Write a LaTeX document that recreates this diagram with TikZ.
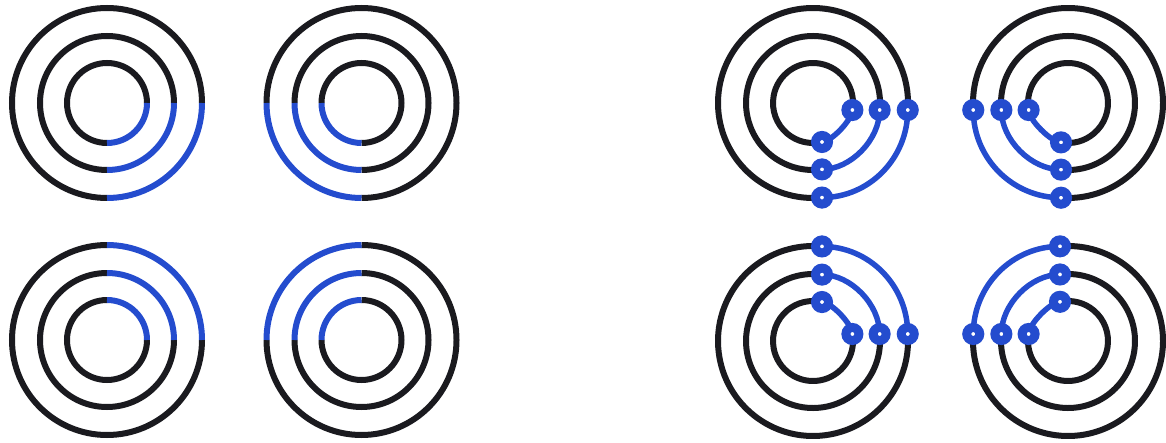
\documentclass[tikz,border=0pt]{standalone}
\usetikzlibrary{calc}
\definecolor{ringblack}{RGB}{26,26,31}
\definecolor{ringblue}{RGB}{36,76,206}
\tikzset{
  ring/.style={draw=ringblack, line width=6pt},
  ringhi/.style={draw=ringblue, line width=6pt},
  conn/.style={draw=ringblue, line width=5.5pt},
  pin/.style={circle, draw=ringblue, fill=white, line width=9pt, inner sep=0pt, minimum size=13pt},
}
% plain target: name, cx, cy, start angle of the blue quarter
\newcommand\plaintarget[4]{%
  \begin{scope}[shift={(#2,#3)}]
    \foreach \r in {40,67,95}{
      \draw[ring] (#4+90:\r) arc[start angle=#4+90, end angle=#4+360, radius=\r];
      \draw[ringhi] (#4:\r) arc[start angle=#4, end angle=#4+90, radius=\r];
    }
  \end{scope}}
% target with pins: name, cx, cy, xscale, yscale, dx, dy
\newcommand\pintarget[7]{%
  \begin{scope}[shift={(#2,#3)}, xscale=#4, yscale=#5]
    \foreach \r/\k/\i in {40/0.3/1, 67/0.5/2, 95/0.552/3}{
      \pgfmathsetmacro\aa{-asin(#7/\r)}
      \pgfmathsetmacro\ab{-90+asin(#6/\r)}
      \pgfmathsetmacro\la{\r*cos(\aa)-#6}
      \pgfmathsetmacro\lb{\r*cos(asin(#6/\r))-#7}
      \coordinate (#1-\i-a) at (\aa:\r);
      \coordinate (#1-\i-b) at (\ab:\r);
      \draw[ring] (#1-\i-a) arc[start angle=\aa, end angle=\ab+360, radius=\r];
      \draw[conn] (#1-\i-a) .. controls +(0,-\k*\lb) and +(\k*\la,0) .. (#1-\i-b);
    }
    \foreach \i in {1,2,3}{
      \node[pin] (#1-\i-an) at (#1-\i-a) {};
      \node[pin] (#1-\i-bn) at (#1-\i-b) {};
    }
  \end{scope}}
\begin{document}
\begin{tikzpicture}[x=1pt,y=1pt]
  \useasboundingbox (0,0) rectangle (1166,442);
  \plaintarget{tl}{107}{339}{-90}
  \plaintarget{tm}{361.5}{339}{180}
  \plaintarget{bl}{107}{102}{0}
  \plaintarget{bm}{361.5}{102}{90}
  \pintarget{ra}{813}{339}{1}{1}{9}{7}
  \pintarget{rb}{1068}{339}{-1}{1}{7}{7}
  \pintarget{rc}{813}{101}{1}{-1}{9}{7}
  \pintarget{rd}{1068}{101}{-1}{-1}{8}{7}
\end{tikzpicture}
\end{document}
